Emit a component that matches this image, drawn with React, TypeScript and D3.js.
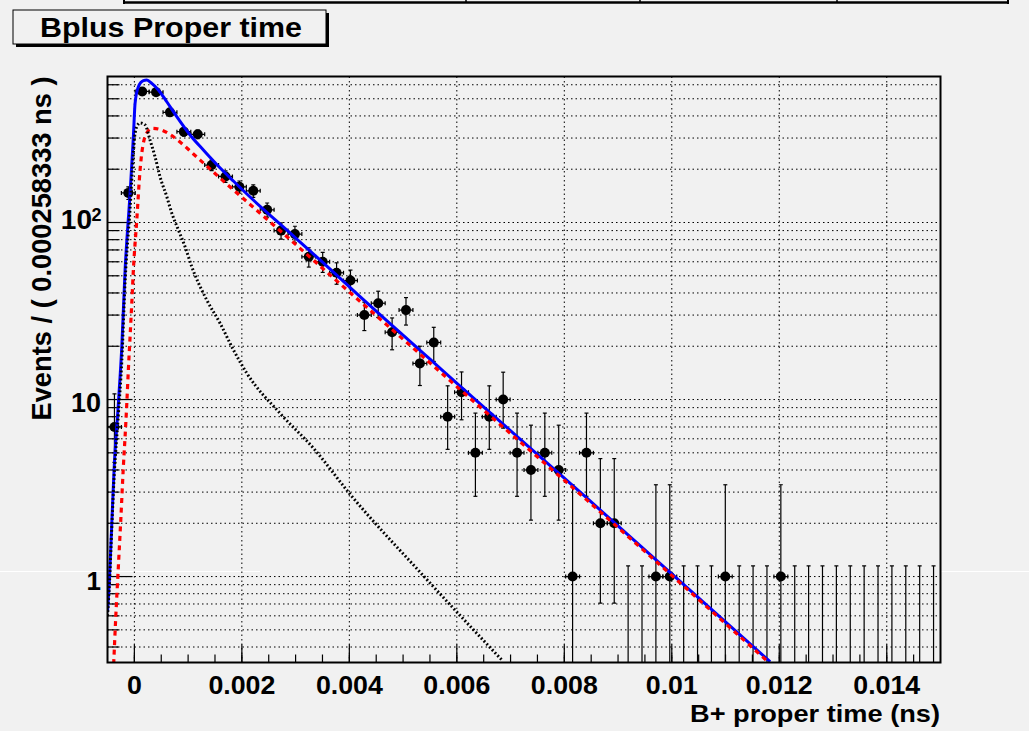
import React from 'react';
import * as d3 from 'd3';

const W = 1029;
const H = 731;

// histogram binning: 60 bins of 0.000258333 ns
const X_MIN = -0.0005;
const X_MAX = 0.015;
const N_BINS = 60;

const counts = [
  7, 147, 550, 545, 419, 326, 315, 211, 182, 159,
  151, 118, 90, 86, 64, 60, 52, 47, 30, 35,
  24, 32, 16, 21, 8, 11, 5, 8, 10, 5,
  4, 5, 4, 1, 5, 2, 2, 0, 0, 1,
  1, 0, 0, 0, 1, 0, 0, 0, 1, 0,
  0, 0, 0, 0, 0, 0, 0, 0, 0, 0,
];

// 68% Poisson intervals used for the error bars of small counts
const poissonLow = [0, 0.173, 0.708, 1.367, 2.086, 2.84, 3.62, 4.419, 5.232, 6.057, 6.891];
const poissonHigh = [1.148, 3.3, 4.638, 5.918, 7.163, 8.382, 9.584, 10.77, 11.95, 13.11, 14.27];

// fit curves (time in ns, events per bin)
const totalT = [-0.0005, -0.000465, -0.00042, -0.000378, -0.000298, -0.000234, -0.000173, -0.00008, -0.0000186, 0.000013, 0.0000744, 0.000167, 0.000231, 0.000324, 0.000447, 0.000603, 0.000789, 0.001036, 0.001284, 0.001533, 0.001842, 0.002153, 0.002897, 0.003516, 0.004138, 0.005501, 0.00606, 0.008417, 0.01183];
const totalV = [0.63, 0.955, 2.0, 4.0, 9.5, 19.9, 53.9, 146, 305, 471, 585, 633, 638, 611, 561, 481, 396, 312, 256.8, 212.7, 171.6, 139.3, 87.3, 59.1, 39.7, 16.9, 11.9, 2.78, 0.33];

const sigT = [-0.000385, -0.000346, -0.000298, -0.000253, -0.000205, -0.000173, -0.000141, -0.000112, -0.00008, -0.0000484, -0.0000186, 0.0000447, 0.000106, 0.000199, 0.000324, 0.000478, 0.000664, 0.00085, 0.001098, 0.001347, 0.001719, 0.002091, 0.002897, 0.003516, 0.004138, 0.005501, 0.00606, 0.008417, 0.01179];
const sigV = [0.32, 0.593, 1.136, 2.085, 4.17, 6.16, 9.5, 14.7, 22.6, 35, 53.9, 103, 198, 305, 340.6, 335.3, 314.3, 285, 243.8, 208.6, 165, 131.4, 80.2, 54.6, 37.2, 16.1, 11.4, 2.71, 0.33];

const bkgT = [-0.0005, -0.000465, -0.00042, -0.000378, -0.000298, -0.000234, -0.000173, -0.00008, -0.0000186, 0.000013, 0.0000744, 0.000106, 0.000199, 0.000292, 0.000385, 0.000478, 0.000603, 0.000696, 0.000819, 0.000943, 0.001068, 0.001347, 0.001594, 0.001842, 0.002091, 0.00271, 0.00333, 0.004013, 0.005315, 0.006841];
const bkgV = [0.6, 0.9, 1.9, 3.6, 8.2, 16.5, 46, 120, 245, 320, 360, 365, 356, 292, 235, 181, 140, 113, 90.8, 73, 56.3, 36.5, 27, 19.1, 14.1, 8.36, 5.32, 2.92, 1.06, 0.337];

const xTickValues = [0, 0.002, 0.004, 0.006, 0.008, 0.01, 0.012, 0.014];
const xTickLabels = ['0', '0.002', '0.004', '0.006', '0.008', '0.01', '0.012', '0.014'];
const yMajorValues = [1, 10, 100];
const yMinorValues = [0.4, 0.5, 0.6, 0.7, 0.8, 0.9, 2, 3, 4, 5, 6, 7, 8, 9, 20, 30, 40, 50, 60, 70, 80, 90, 200, 300, 400, 500, 600];

const BG = '#f1f1f1';
const FONT = '"Liberation Sans", Arial, Helvetica, sans-serif';

const frame = { left: 107.5, right: 940.5, top: 76.5, bottom: 662.5 };

export default function App() {
  const x = d3.scaleLinear().domain([X_MIN, X_MAX]).range([frame.left, frame.right]);
  const y = d3.scaleLog().domain([0.327, 668]).range([frame.bottom, frame.top]);
  const binW = (X_MAX - X_MIN) / N_BINS;

  const minorX = d3.range(1, 31).map(i => X_MIN + i * 0.0005).filter(v => v < X_MAX - 1e-9);

  const line = d3.line<[number, number]>()
    .x(d => x(d[0]))
    .y(d => y(d[1]))
    .curve(d3.curveMonotoneX);
  const toPts = (ts: number[], vs: number[]) => ts.map((t, i) => [t, vs[i]] as [number, number]);

  const bins = counts.map((n, i) => {
    const c = X_MIN + (i + 0.5) * binW;
    const lo = n <= 10 ? poissonLow[n] : n - Math.sqrt(n);
    const hi = n <= 10 ? poissonHigh[n] : n + Math.sqrt(n);
    return { c, n, lo, hi };
  });

  const clampY = (v: number) => (v <= 0.327 ? frame.bottom + 5 : y(v));

  return (
    <svg width={W} height={H} style={{ position: 'absolute', left: 0, top: 0, background: BG }}
      fontFamily={FONT}>
      <defs>
        <clipPath id="plotClip">
          <rect x={frame.left} y={frame.top} width={frame.right - frame.left} height={frame.bottom - frame.top} />
        </clipPath>
      </defs>
      <rect x={0} y={0} width={W} height={H} fill={BG} />

      {/* remnant of the pad above */}
      <line x1={124} x2={1008} y1={2.5} y2={2.5} stroke="#000" strokeWidth={2.5} />
      <line x1={124} x2={124} y1={0} y2={4} stroke="#000" strokeWidth={2} />
      <line x1={1008} x2={1008} y1={0} y2={4} stroke="#000" strokeWidth={2} />
      {[466, 640, 837].map(v => (
        <line key={v} x1={v} x2={v} y1={0} y2={3} stroke="#000" strokeWidth={1.5} />
      ))}

      {/* seam */}
      <line x1={0} x2={260} y1={571.5} y2={571.5} stroke="#fff" strokeWidth={1} />
      <line x1={941} x2={W} y1={571.5} y2={571.5} stroke="#fff" strokeWidth={1} />

      {/* title box */}
      <rect x={16} y={13} width={313} height={34} fill="#000" />
      <rect x={13} y={10} width={313} height={34} fill={BG} stroke="#000" strokeWidth={1} />
      <text x={40} y={37} fontSize={28} fontWeight="bold" textLength={262} lengthAdjust="spacingAndGlyphs">Bplus Proper time</text>

      {/* grid */}
      <g stroke="#000" strokeWidth={1} strokeDasharray="1.5 3">
        {xTickValues.map(v => (
          <line key={'gx' + v} x1={x(v)} x2={x(v)} y1={frame.top} y2={frame.bottom} />
        ))}
        {[...yMajorValues, ...yMinorValues].map(v => (
          <line key={'gy' + v} x1={frame.left} x2={frame.right} y1={y(v)} y2={y(v)} />
        ))}
      </g>

      {/* axis ticks */}
      <g stroke="#000" strokeWidth={1.2}>
        {xTickValues.map(v => (
          <line key={'tx' + v} x1={x(v)} x2={x(v)} y1={frame.bottom} y2={frame.bottom - 18} />
        ))}
        {minorX.map(v => (
          <line key={'mx' + v} x1={x(v)} x2={x(v)} y1={frame.bottom} y2={frame.bottom - 8} />
        ))}
        {yMajorValues.map(v => (
          <line key={'ty' + v} x1={frame.left} x2={frame.left + 25} y1={y(v)} y2={y(v)} />
        ))}
        {yMinorValues.map(v => (
          <line key={'my' + v} x1={frame.left} x2={frame.left + 12} y1={y(v)} y2={y(v)} />
        ))}
      </g>

      {/* data points */}
      <g clipPath="url(#plotClip)" stroke="#000" strokeWidth={1.2}>
        {bins.map((b, i) => {
          const cx = x(b.c);
          const yHi = y(b.hi);
          const yLo = clampY(b.lo);
          if (b.n === 0) {
            return (
              <g key={i}>
                <line x1={cx} x2={cx} y1={yHi} y2={frame.bottom + 5} />
                <line x1={cx - 2} x2={cx + 2} y1={yHi} y2={yHi} />
              </g>
            );
          }
          const cy = y(b.n);
          const hx = x(b.c + binW / 2) - cx;
          return (
            <g key={i}>
              <line x1={cx} x2={cx} y1={yHi} y2={yLo} />
              <line x1={cx - 2} x2={cx + 2} y1={yHi} y2={yHi} />
              <line x1={cx - 2} x2={cx + 2} y1={yLo} y2={yLo} />
              <line x1={cx - hx} x2={cx + hx} y1={cy} y2={cy} />
              <line x1={cx - hx} x2={cx - hx} y1={cy - 2} y2={cy + 2} />
              <line x1={cx + hx} x2={cx + hx} y1={cy - 2} y2={cy + 2} />
              <circle cx={cx} cy={cy} r={5} fill="#000" stroke="none" />
            </g>
          );
        })}
      </g>

      {/* fit curves */}
      <g clipPath="url(#plotClip)" fill="none">
        <path d={line(toPts(totalT, totalV)) || ''} stroke="#0000ff" strokeWidth={3} />
        <path d={line(toPts(sigT, sigV)) || ''} stroke="#ff0000" strokeWidth={3.2} strokeDasharray="5 4.5" />
        <path d={line(toPts(bkgT, bkgV)) || ''} stroke="#000" strokeWidth={3} strokeDasharray="1.8 2.2" />
      </g>

      {/* frame */}
      <rect x={frame.left} y={frame.top} width={frame.right - frame.left} height={frame.bottom - frame.top}
        fill="none" stroke="#000" strokeWidth={2} />

      {/* x tick labels */}
      {xTickValues.map((v, i) => (
        <text key={'lx' + v} transform={`translate(${x(v)},694) scale(1.07,1)`} textAnchor="middle"
          fontSize={25} fontWeight="bold">{xTickLabels[i]}</text>
      ))}

      {/* y tick labels */}
      <text x={101} y={590} textAnchor="end" fontSize={26} fontWeight="bold">1</text>
      <text x={101} y={412} textAnchor="end" fontSize={27} fontWeight="bold">10</text>
      <text x={92} y={229} textAnchor="end" fontSize={28} fontWeight="bold">10</text>
      <text x={91.5} y={221} fontSize={18} fontWeight="bold">2</text>

      {/* axis titles */}
      <text x={940} y={722} textAnchor="end" fontSize={24} fontWeight="bold"
        textLength={250} lengthAdjust="spacingAndGlyphs">B+ proper time (ns)</text>
      <text transform={`translate(51,${frame.top}) rotate(-90)`} textAnchor="end" fontSize={27} fontWeight="bold"
        textLength={344} lengthAdjust="spacingAndGlyphs">Events / ( 0.000258333 ns )</text>
    </svg>
  );
}
